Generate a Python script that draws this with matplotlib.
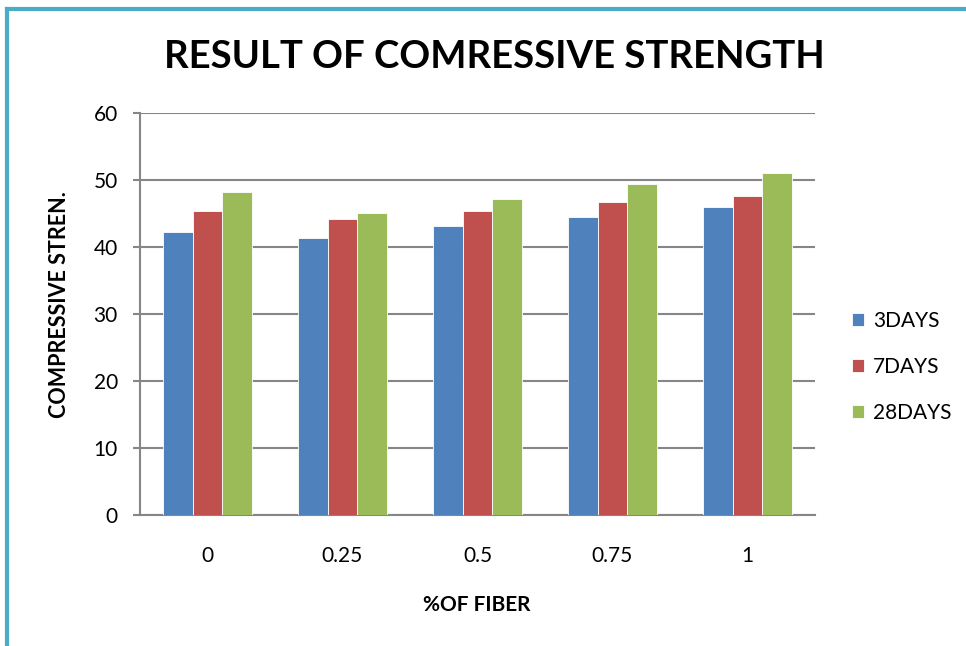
import numpy as np
import matplotlib.pyplot as plt
from matplotlib.lines import Line2D

plt.rcParams['font.family'] = ['Lato', 'DejaVu Sans']

fiber = ["0", "0.25", "0.5", "0.75", "1"]
days3 = [42.3, 41.3, 43.1, 44.5, 46.0]
days7 = [45.3, 44.2, 45.4, 46.7, 47.6]
days28 = [48.2, 45.1, 47.2, 49.4, 51.0]

series = [("3DAYS", days3, "#4F81BD"),
          ("7DAYS", days7, "#C0504D"),
          ("28DAYS", days28, "#9BBB59")]

fig = plt.figure(figsize=(9.66, 6.46), dpi=100)
ax = fig.add_axes([140 / 966, 131 / 646, 675 / 966, 402 / 646])

x = np.arange(len(fiber))
w = 0.22
for i, (name, vals, col) in enumerate(series):
    ax.bar(x + (i - 1) * w, vals, w, color=col, label=name,
           edgecolor="white", linewidth=0.6, zorder=3)

ax.set_xlim(-0.5, len(fiber) - 0.5)
ax.set_ylim(0, 60)
ax.set_yticks(range(0, 61, 10))
ax.set_xticks(x)
ax.set_xticklabels(fiber)
ax.grid(axis="y", color="#868686", linewidth=1.5, zorder=0)

for s in ["top", "right"]:
    ax.spines[s].set_visible(False)
for s in ["left", "bottom"]:
    ax.spines[s].set_color("#868686")
    ax.spines[s].set_linewidth(1.5)
ax.tick_params(axis="y", length=5, width=1.5, color="#868686",
               labelsize=15, pad=11)
ax.tick_params(axis="x", length=0, labelsize=15, pad=22)

fig.text(494 / 966, 1 - 57 / 646, "RESULT OF COMRESSIVE STRENGTH",
         ha="center", va="center", fontsize=27.5, fontweight="bold")
fig.text(60 / 966, 1 - 305 / 646, "COMPRESSIVE STREN.", rotation=90,
         ha="center", va="center", fontsize=15.5, fontweight="bold")
fig.text(477 / 966, 1 - 605 / 646, "%OF FIBER",
         ha="center", va="center", fontsize=15, fontweight="bold")

ax.legend(loc="center left", bbox_to_anchor=(1.04, 0.368), frameon=False,
          fontsize=15, handlelength=0.55, handleheight=0.55,
          handletextpad=0.45, labelspacing=1.25, borderpad=0)

# frame border (left and top)
fig.add_artist(Line2D([7 / 966, 7 / 966], [0, 1 - 9 / 646],
                      color="#4BACC6", linewidth=3, transform=fig.transFigure))
fig.add_artist(Line2D([7 / 966, 1], [1 - 9 / 646, 1 - 9 / 646],
                      color="#4BACC6", linewidth=3, transform=fig.transFigure))

fig.savefig("out.png", dpi=100)
